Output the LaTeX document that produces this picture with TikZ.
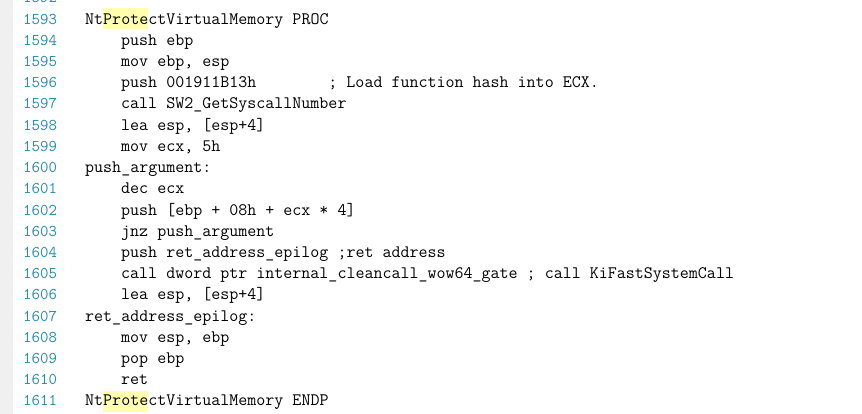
\documentclass[tikz,border=0pt]{standalone}
\usepackage{fontspec}
\usepackage{xcolor}
\usepackage{tikz}
\usetikzlibrary{positioning}
\definecolor{gutter}{RGB}{240,240,240}
\definecolor{lineno}{RGB}{38,140,170}
\definecolor{hilite}{RGB}{255,255,175}
\definecolor{codetext}{RGB}{0,0,0}

\begin{document}
\begin{tikzpicture}[
  x=1pt,y=-1pt,
  code/.style={anchor=base west, inner sep=0pt, text=codetext,
    font=\ttfamily\fontsize{17.5}{17}\selectfont},
  num/.style={anchor=base west, inner sep=0pt, text=lineno,
    font=\ttfamily\fontsize{16.4}{16}\selectfont},
  hlbox/.style={fill=hilite, draw=none}
]
\useasboundingbox (0,0) rectangle (862,414);
\clip (0,0) rectangle (862,414);

% ---- editor gutter and search highlights ----
\fill[gutter] (0,0) rectangle (13,414);
\fill[hlbox] (103,8.5) rectangle (148,29.5);
\fill[hlbox] (103,390.5) rectangle (148,411.5);

% ---- line numbers ----
\foreach \n [count=\i from 0] in {1592,...,1611}
  \node[num] (n\n) at (23, {2.8+\i*21.22}) {\n};

% ---- columns for labels and indented code ----
\coordinate (lbl) at (85,0);
\coordinate (ind) at (121,0);

\node[code] (procstart) at (n1593.base -| lbl) {NtProtectVirtualMemory PROC};
\node[code] (pushebp)   at (n1594.base -| ind) {push ebp};
\node[code] (movebp)    at (n1595.base -| ind) {mov ebp, esp};
\node[code] (pushhash)  at (n1596.base -| ind) {push 001911B13h\hphantom{00000000}; Load function hash into ECX.};
\node[code] (callnum)   at (n1597.base -| ind) {call SW2\_GetSyscallNumber};
\node[code] (leaone)    at (n1598.base -| ind) {lea esp, [esp+4]};
\node[code] (movecx)    at (n1599.base -| ind) {mov ecx, 5h};
\node[code] (pusharg)   at (n1600.base -| lbl) {push\_argument:};
\node[code] (dececx)    at (n1601.base -| ind) {dec ecx};
\node[code] (pushslot)  at (n1602.base -| ind) {push [ebp + 08h + ecx * 4]};
\node[code] (jnzarg)    at (n1603.base -| ind) {jnz push\_argument};
\node[code] (pushret)   at (n1604.base -| ind) {push ret\_address\_epilog ;ret address};
\node[code] (callgate)  at (n1605.base -| ind) {call dword ptr internal\_cleancall\_wow64\_gate ; call KiFastSystemCall};
\node[code] (leatwo)    at (n1606.base -| ind) {lea esp, [esp+4]};
\node[code] (epilog)    at (n1607.base -| lbl) {ret\_address\_epilog:};
\node[code] (movesp)    at (n1608.base -| ind) {mov esp, ebp};
\node[code] (popebp)    at (n1609.base -| ind) {pop ebp};
\node[code] (retins)    at (n1610.base -| ind) {ret};
\node[code] (procend)   at (n1611.base -| lbl) {NtProtectVirtualMemory ENDP};

\end{tikzpicture}
\end{document}
